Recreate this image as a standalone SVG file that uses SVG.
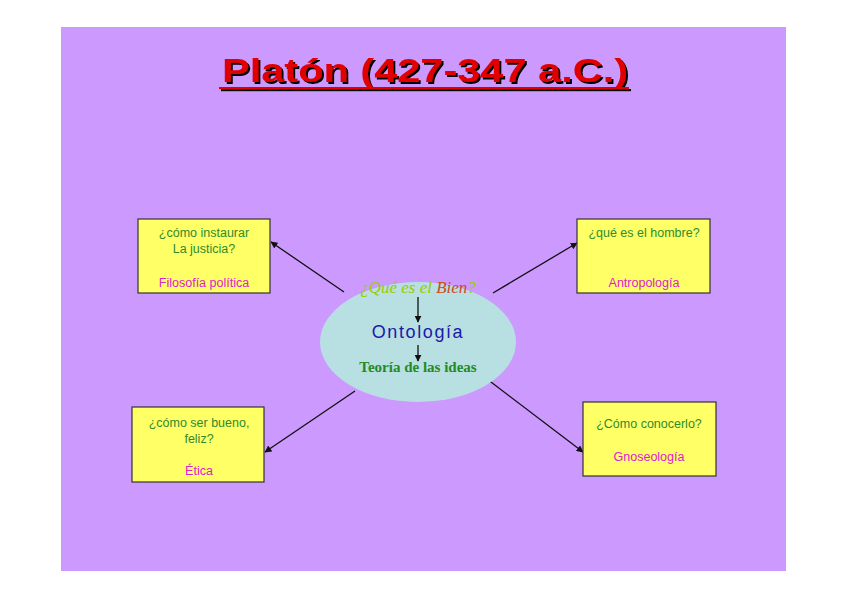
<svg xmlns="http://www.w3.org/2000/svg" width="848" height="599" viewBox="0 0 848 599">
<defs>
<style>
.box{fill:#FFFF66;stroke:#333333;stroke-width:1.2}
.q{font-family:"Liberation Sans",Arial,sans-serif;font-size:12.5px;fill:#2E8B2E;text-anchor:middle}
.d{font-family:"Liberation Sans",Arial,sans-serif;font-size:12.5px;fill:#DD22CC;text-anchor:middle}
.ln{stroke:#111111;stroke-width:1.3;fill:none;marker-end:url(#ah)}
</style>
<filter id="sh" x="-5%" y="-20%" width="110%" height="150%">
<feOffset in="SourceAlpha" dx="2" dy="2" result="o"/>
<feFlood flood-color="#000000"/>
<feComposite operator="in" in2="o" result="s"/>
<feMerge><feMergeNode in="s"/><feMergeNode in="SourceGraphic"/></feMerge>
</filter>
<marker id="ah" viewBox="0 0 10 10" refX="9" refY="5" markerWidth="7" markerHeight="7" markerUnits="userSpaceOnUse" orient="auto">
<path d="M0,0 L10,5 L0,10 z" fill="#111111"/>
</marker>
</defs>
<rect x="0" y="0" width="848" height="599" fill="#FFFFFF"/>
<rect x="61" y="27" width="725" height="544" fill="#CC99FF"/>
<g id="title" filter="url(#sh)">
<text x="222" y="82" font-family="Liberation Sans,Arial,sans-serif" font-weight="bold" font-size="34" textLength="406" lengthAdjust="spacingAndGlyphs" fill="#E00000">Platón (427-347 a.C.)</text>
<rect x="219" y="87" width="410" height="2.2" fill="#E00000"/>
</g>
<g id="connectors">
<line class="ln" x1="344" y1="292" x2="271" y2="242"/>
<line class="ln" x1="493" y1="293" x2="577" y2="243"/>
<line class="ln" x1="355" y1="391" x2="265" y2="452"/>
<line class="ln" x1="487" y1="379" x2="583" y2="452"/>
</g>
<g id="center">
<ellipse cx="418" cy="342" rx="98" ry="60" fill="#B8DFE2"/>
<text x="418" y="293" text-anchor="middle" font-family="Liberation Serif,serif" font-style="italic" font-size="17" fill="#99CC00">¿Qué es el <tspan fill="#D04A20">Bien</tspan>?</text>
<line class="ln" x1="418" y1="297" x2="418" y2="322"/>
<text x="418" y="338" text-anchor="middle" font-family="Liberation Sans,Arial,sans-serif" font-size="18" letter-spacing="1.6" fill="#1A1AA8">Ontología</text>
<line class="ln" x1="418" y1="345" x2="418" y2="361"/>
<text x="418" y="372" text-anchor="middle" font-family="Liberation Serif,serif" font-weight="bold" font-size="15" fill="#228B22">Teoría de las ideas</text>
</g>
<g id="n1">
<rect class="box" x="138" y="219" width="132" height="74"/>
<text class="q" x="204" y="237">¿cómo instaurar</text>
<text class="q" x="204" y="253">La justicia?</text>
<text class="d" x="204" y="287">Filosofía política</text>
</g>
<g id="n2">
<rect class="box" x="577" y="219" width="133" height="74"/>
<text class="q" x="644" y="237">¿qué es el hombre?</text>
<text class="d" x="644" y="287">Antropología</text>
</g>
<g id="n3">
<rect class="box" x="132" y="407" width="132" height="75"/>
<text class="q" x="199" y="427">¿cómo ser bueno,</text>
<text class="q" x="199" y="443">feliz?</text>
<text class="d" x="199" y="475">Ética</text>
</g>
<g id="n4">
<rect class="box" x="583" y="402" width="133" height="74"/>
<text class="q" x="649" y="428">¿Cómo conocerlo?</text>
<text class="d" x="649" y="461">Gnoseología</text>
</g>
</svg>
